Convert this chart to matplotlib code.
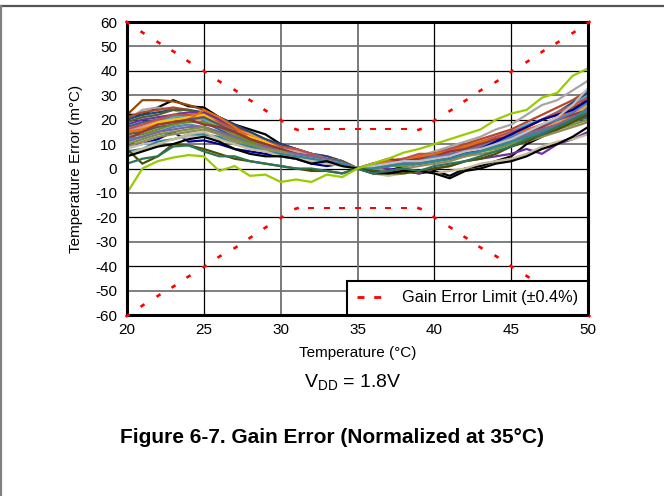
import matplotlib
matplotlib.use("Agg")
import matplotlib.pyplot as plt
from matplotlib.lines import Line2D
from matplotlib.path import Path
import numpy as np

plt.rcParams['font.family'] = ['Liberation Sans', 'DejaVu Sans']
plt.rcParams['axes.unicode_minus'] = False

temps = list(range(20, 51))

limit_upper = [60, 56, 52, 48, 44, 40, 36, 32, 28, 24, 20, 16, 16, 16, 16, 16,
               16, 16, 16, 16, 20, 24, 28, 32, 36, 40, 44, 48, 52, 56, 60]
limit_lower = [-v for v in limit_upper]

# measured units (m°C), T = 20..50
series = [
    ("#000000", [22, 22, 25, 28, 25.5, 25, 21, 18, 16, 14, 10, 8, 6, 4.5, 3, 0, -1, -1.5, -1, -2, -1, -3, 0, 1, 3, 5, 10, 13, 17, 22, 30]),
    ("#984807", [22, 28, 28, 27.5, 26, 24, 20, 17, 15, 12, 9, 7, 5, 4, 2, 0, 1, 2, 3, 3, 5, 6, 8, 10, 12, 14, 17, 20, 22, 25, 28]),
    ("#A6A6A6", [20, 24, 25, 24, 22, 21, 19, 16, 13, 10, 8, 7, 6, 4, 2, 0, 2, 3, 4, 5, 7, 9, 11, 13, 16, 18, 22, 26, 28, 32, 36]),
    ("#B7472A", [21, 23, 24, 25, 24, 22, 20, 17, 14, 12, 9, 7, 6, 5, 3, 0, 2, 3, 4, 5, 6, 8, 10, 12, 14, 16, 19, 22, 25, 28, 32]),
    ("#1F497D", [20, 22, 23, 24, 24, 23, 21, 18, 15, 12, 10, 8, 6, 5, 3, 0, 1, 2, 3, 4, 5, 6, 8, 10, 12, 14, 17, 20, 23, 27, 31]),
    ("#4F6228", [19, 21, 22, 24, 24, 22, 19, 16, 13, 11, 9, 7, 6, 4, 3, 0, 1, 1, 2, 2, 4, 5, 7, 9, 11, 12, 14, 17, 21, 24, 27]),
    ("#F79646", [17, 18, 20, 21, 22, 23, 19, 16, 14, 11, 8, 7, 5, 4, 3, 0, 1, 3, 4, 5, 4, 6, 8, 9, 10, 12, 14, 17, 19, 22, 26]),
    ("#7030A0", [18, 20, 21, 22, 23, 23, 20, 16, 13, 10, 7, 6, 5, 4, 2, 0, 1, 0, -1, -2, 0, 1, 3, 4, 5, 6, 8, 6, 10, 12, 15]),
    ("#366092", [17, 19, 20, 21, 21, 19, 16, 13, 11, 9, 7, 6, 4, 3, 2, 0, 0, 1, 2, 2, 3, 4, 6, 7, 9, 10, 12, 14, 16, 19, 21]),
    ("#4BACC6", [16, 17, 19, 21, 22, 20, 18, 15, 12, 10, 8, 7, 6, 4, 3, 0, 1, 2, 3, 4, 5, 6, 8, 10, 12, 15, 18, 20, 23, 26, 30]),
    ("#C0504D", [16, 18, 20, 22, 22, 21, 19, 16, 13, 11, 9, 8, 6, 4, 3, 0, 2, 3, 4, 6, 6, 8, 9, 11, 13, 15, 17, 20, 23, 26, 29]),
    ("#D99694", [15, 17, 19, 20, 21, 19, 17, 14, 12, 10, 8, 7, 5, 4, 2, 0, 1, 2, 2, 3, 4, 5, 7, 8, 10, 12, 13, 15, 17, 19, 22]),
    ("#FFC000", [14, 16, 19, 20, 21, 22, 18, 15, 13, 11, 8, 6, 5, 4, 2, 0, 2, 2, 3, 4, 3, 5, 7, 8, 10, 11, 14, 16, 18, 21, 25]),
    ("#E46C0A", [15, 16, 18, 19, 20, 24, 21, 17, 12, 10, 8, 6, 5, 3, 2, 0, 2, 3, 3, 5, 6, 7, 9, 11, 12, 14, 16, 18, 21, 24, 28]),
    ("#595959", [14, 15, 17, 18, 20, 21, 18, 15, 12, 10, 8, 6, 5, 4, 3, 0, 1, 1, 2, 3, 4, 5, 6, 8, 10, 12, 14, 16, 18, 20, 23]),
    ("#6B8E23", [13, 14, 16, 18, 19, 19, 17, 14, 11, 9, 7, 6, 5, 3, 2, 0, 1, 1, 2, 3, 3, 4, 6, 8, 9, 11, 13, 15, 18, 20, 22]),
    ("#953735", [12, 15, 18, 19, 20, 18, 17, 15, 12, 10, 8, 6, 5, 3, 2, 0, 2, 4, 3, 4, 5, 7, 8, 10, 12, 13, 15, 17, 20, 22, 24]),
    ("#4F81BD", [12, 13, 15, 17, 18, 17, 15, 12, 10, 8, 6, 5, 4, 3, 2, 0, 1, 2, 3, 3, 5, 5, 7, 9, 11, 13, 15, 18, 20, 23, 27]),
    ("#8064A2", [11, 13, 15, 16, 17, 17, 15, 13, 10, 9, 7, 6, 5, 4, 2, 0, 1, 2, 2, 3, 4, 6, 7, 9, 10, 12, 14, 16, 18, 21, 24]),
    ("#000099", [10, 10, 12, 15, 11, 11.5, 10, 8, 7, 6, 5, 4, 2, 1, 2, 0, -1, -1, 1, 2, 3, 5, 6, 8, 11, 14, 17, 20, 22, 24, 28]),
    ("#77933C", [10, 12, 14, 15, 16, 17, 14, 12, 10, 8, 7, 5, 4, 3, 2, 0, 0, 1, 1, 2, 3, 4, 5, 7, 8, 10, 12, 14, 16, 18, 20]),
    ("#948A54", [9, 11, 13, 14, 15, 16, 14, 11, 9, 8, 7, 5, 4, 3, 2, 0, 0, -1, 0, 1, 2, 3, 5, 6, 7, 9, 11, 13, 15, 17, 19]),
    ("#BFBFBF", [8, 10, 11, 12, 13, 14, 12, 10, 8, 7, 6, 5, 4, 3, 2, 0, 1, 2, 3, 3, 4, 5, 7, 8, 10, 12, 15, 18, 21, 26, 33]),
    ("#31859C", [7, 8, 11, 12, 14, 14, 13, 10, 9, 7, 6, 5, 4, 3, 2, 0, 0, 1, 2, 2, 3, 4, 6, 7, 9, 11, 13, 15, 17, 20, 25]),
    ("#C4BD97", [6, 8, 10, 12, 14, 15, 12, 10, 8, 7, 5, 4, 3, 2, 1, 0, -2, -3, -2, -1, -2, -1, 0, 2, 3, 4, 6, 9, 11, 12, 14]),
    ("#4F4F00", [8, 2, 5, 10, 9.5, 8, 6, 4, 3, 2, 1, 0, -1, -1, -2, 0, -1, -2, -2, -1, 0, 1, 3, 4, 6, 9, 11, 14, 16, 19, 22]),
    ("#000000", [5, 7, 9, 10, 12, 13, 11, 8, 6, 5, 5, 4, 2, 3, 1, 0, -2, -2, -1, -1, -2, -4, -1, 0, 2, 3, 5, 8, 10, 13, 17]),
    ("#2E7558", [2, 4, 5, 9, 9.5, 7, 5, 5, 3, 2, 1, 0, 0, -1, -2, 0, -2, -1, 0, -1, 1, 2, 3, 5, 7, 9, 12, 14, 17, 20, 23]),
    ("#99CC00", [-10, 0, 3, 4.5, 5.5, 5, -1, 1, -3, -2.5, -5.5, -4.5, -5.5, -2.5, -3.5, 0, 2, 4, 6.5, 8, 10, 12, 14, 16, 20, 22.5, 24, 29, 31, 38, 41]),
]

y_ticks = list(range(-60, 61, 10))
x_ticks = list(range(20, 51, 5))

fig = plt.figure(figsize=(6.64, 4.96), dpi=100)
ax = fig.add_axes([0.1913, 0.3649, 0.6943, 0.5907])
ax.set_xlim(20, 50)
ax.set_ylim(-60, 60)

# grid
for y in y_ticks[1:-1]:
    if y % 20 == 0:
        ax.axhline(y, color="#000000", lw=0.9, zorder=1)
    else:
        ax.axhline(y, color="#7f7f7f", lw=1.4, zorder=1)
for x in x_ticks[1:-1]:
    if x == 35 or x == 30:
        ax.axvline(x, color="#6f6f6f", lw=1.3, zorder=1)
    else:
        ax.axvline(x, color="#000000", lw=0.9, zorder=1)

for color, vals in series:
    ax.plot(temps, vals, color=color, lw=1.6, zorder=2)


def dash_marker(angle_deg):
    # short thick dash oriented along the line direction
    base = np.array([[-1.0, -0.55], [1.0, -0.55], [1.0, 0.55], [-1.0, 0.55], [-1.0, -0.55]])
    t = np.radians(angle_deg)
    rot = np.array([[np.cos(t), -np.sin(t)], [np.sin(t), np.cos(t)]])
    verts = base @ rot.T
    codes = [Path.MOVETO, Path.LINETO, Path.LINETO, Path.LINETO, Path.CLOSEPOLY]
    return Path(verts, codes)


def dashed_limit(xs, ys):
    pts = ax.transData.transform(np.column_stack([xs, ys]))
    n = len(xs)
    for i in range(n):
        a = pts[max(i - 1, 0)]
        b = pts[min(i + 1, n - 1)]
        ang = np.degrees(np.arctan2(b[1] - a[1], b[0] - a[0]))
        ax.plot([xs[i]], [ys[i]], linestyle='none', marker=dash_marker(ang),
                markersize=3.9, markeredgewidth=0, color='red', zorder=4, clip_on=False)


dashed_limit(temps, limit_upper)
dashed_limit(temps, limit_lower)

for s in ax.spines.values():
    s.set_linewidth(2.2)
    s.set_color("black")
    s.set_zorder(3)

ax.set_xticks(x_ticks)
ax.set_yticks(y_ticks)
ax.tick_params(length=0, labelsize=11)
ax.tick_params(axis='x', pad=6)
ax.tick_params(axis='y', pad=7)

ax.set_xlabel("Temperature (°C)", fontsize=11, labelpad=6)
ax.set_ylabel("Temperature Error (m°C)", fontsize=11, labelpad=9)

handle = Line2D([0], [0], color="red", lw=2.0, linestyle=(0, (2.5, 3.5)))
leg = ax.legend([handle], ["Gain Error Limit (±0.4%)"], loc="lower right",
                bbox_to_anchor=(1.0, 0.0), fontsize=11.7, frameon=True,
                fancybox=False, borderaxespad=0.0, handlelength=1.8,
                handletextpad=1.0, borderpad=0.6, framealpha=1.0)
leg.get_frame().set_edgecolor("black")
leg.get_frame().set_linewidth(1.5)
leg.set_zorder(5)

fig.text(0.532, 0.228, r"V$_{\mathregular{DD}}$ = 1.8V", fontsize=14, ha="center", va="center")
fig.text(0.500, 0.117, "Figure 6-7. Gain Error (Normalized at 35°C)", fontsize=15,
         fontweight="bold", ha="center", va="center")

# outer frame lines
fig.add_artist(Line2D([0, 1], [1 - 5.5 / 496, 1 - 5.5 / 496], color="#555555", lw=1.6,
                      transform=fig.transFigure))
fig.add_artist(Line2D([0.8 / 664, 0.8 / 664], [0, 1 - 5.5 / 496], color="#808080", lw=1.6,
                      transform=fig.transFigure))

fig.savefig("out.png", dpi=100)
